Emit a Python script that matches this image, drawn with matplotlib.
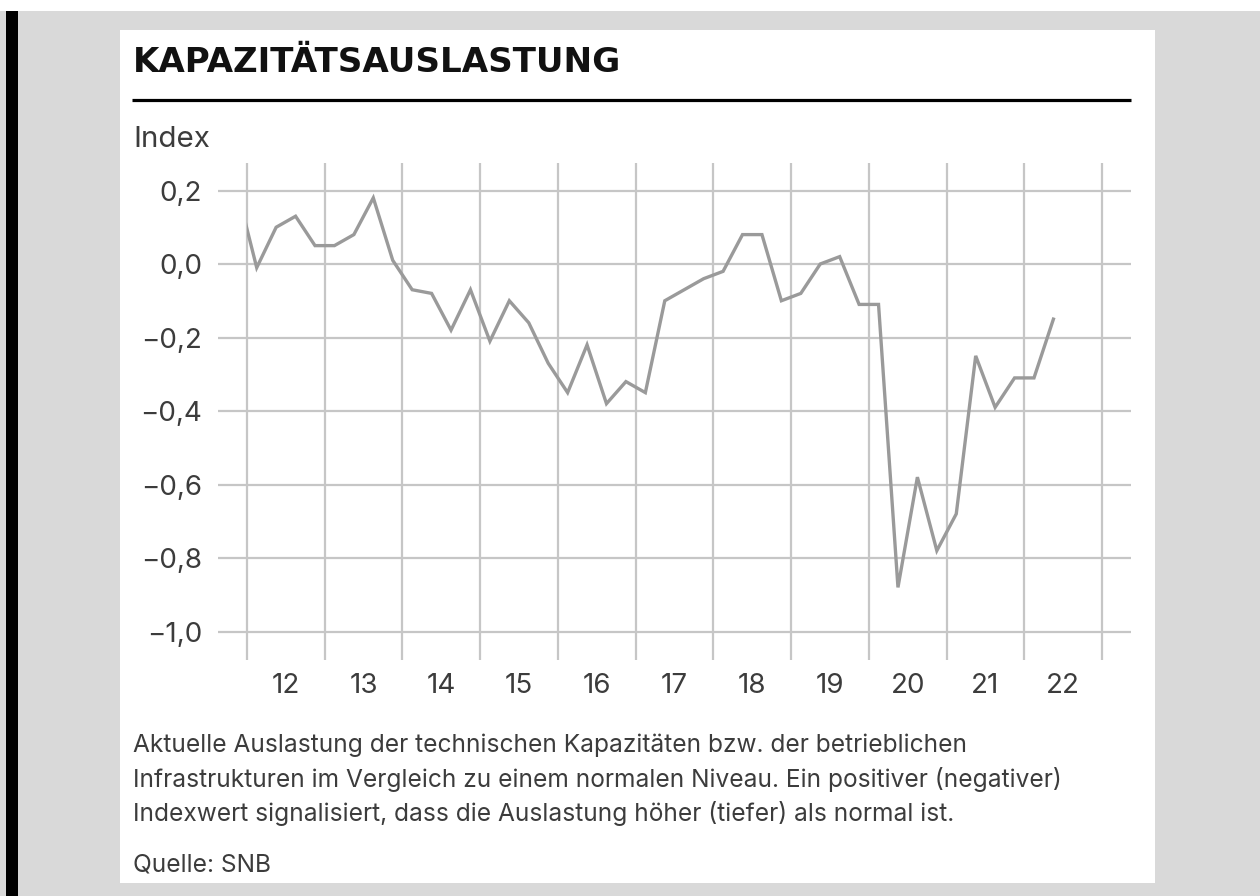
import matplotlib
matplotlib.use("Agg")
import matplotlib.pyplot as plt
from matplotlib.patches import Rectangle
from matplotlib.lines import Line2D
import numpy as np
import pandas as pd

# ---------------- data ----------------
quarters = pd.period_range("2011Q4", "2022Q2", freq="Q")
values = [0.20,
          -0.01, 0.10, 0.13, 0.05,
          0.05, 0.08, 0.18, 0.01,
          -0.07, -0.08, -0.18, -0.07,
          -0.21, -0.10, -0.16, -0.27,
          -0.35, -0.22, -0.38, -0.32,
          -0.35, -0.10, -0.07, -0.04,
          -0.02, 0.08, 0.08, -0.10,
          -0.08, 0.00, 0.02, -0.11,
          -0.11, -0.88, -0.58, -0.78,
          -0.68, -0.25, -0.39, -0.31,
          -0.31, -0.15]
year_ticks = list(range(2012, 2024))
year_labels = ["12", "13", "14", "15", "16", "17", "18", "19", "20", "21", "22"]
y_ticks = [0.2, 0.0, -0.2, -0.4, -0.6, -0.8, -1.0]

title = "KAPAZITÄTSAUSLASTUNG"
unit = "Index"
caption = ["Aktuelle Auslastung der technischen Kapazitäten bzw. der betrieblichen",
           "Infrastrukturen im Vergleich zu einem normalen Niveau. Ein positiver (negativer)",
           "Indexwert signalisiert, dass die Auslastung höher (tiefer) als normal ist."]
source = "Quelle: SNB"

# ---------------- figure ----------------
W, H = 1260, 896
body_font = ["Inter", "Liberation Sans", "DejaVu Sans"]
title_font = ["DejaVu Sans"]
plt.rcParams["font.family"] = body_font
fig = plt.figure(figsize=(W / 100, H / 100), dpi=100, facecolor="white")
renderer = fig.canvas.get_renderer()

def fx(px):
    return px / W

def fy(py):
    return 1 - py / H

def rect(x0, y0, x1, y1, color):
    fig.patches.append(Rectangle((fx(x0), fy(y1)), fx(x1) - fx(x0), fy(y0) - fy(y1),
                                 transform=fig.transFigure, facecolor=color,
                                 edgecolor="none", zorder=-10))

def fit_width(t, target_px):
    w = t.get_window_extent(renderer).width
    t.set_fontsize(t.get_fontsize() * target_px / w)
    return t.get_fontsize()

rect(0, 11, W, H, "#d9d9d9")
rect(6, 11, 18, H, "#000000")
rect(120, 30, 1155, 883, "#ffffff")

text_col = "#3c3c3c"
tt = fig.text(fx(133), fy(71.5), title, fontsize=22, fontweight="bold", color="#111111",
              family=title_font, ha="left", va="baseline")
fit_width(tt, 487)
fig.add_artist(Line2D([fx(132), fx(1131)], [fy(100), fy(100)], color="#000000",
                      lw=2.3, transform=fig.transFigure, solid_capstyle="butt"))
ut = fig.text(fx(133), fy(147), unit, fontsize=21, color=text_col, ha="left", va="baseline")
fit_width(ut, 77)

# tick label size fitted on a sample label width
probe = fig.text(0, 0, "\u22120,8", fontsize=21)
tick_fs = fit_width(probe, 61)
probe.remove()

# axes
ax_l, ax_r, ax_t, ax_b = 218, 1131, 163, 660
ax = fig.add_axes([fx(ax_l), fy(ax_b), fx(ax_r) - fx(ax_l), fy(ax_t) - fy(ax_b)])
ax.set_facecolor("none")
for s in ax.spines.values():
    s.set_visible(False)

ppy = (1102 - 247) / 11.0
x_left = 2012 + (ax_l - 247) / ppy
x_right = 2012 + (ax_r - 247) / ppy
ppu = (631.5 - 264) / 1.0
y_top = (264 - ax_t) / ppu
y_bot = -(ax_b - 264) / ppu
ax.set_xlim(x_left, x_right)
ax.set_ylim(y_bot, y_top)

grid_col = "#c6c6c6"
ax.set_xticks(year_ticks)
ax.set_xticklabels([""] * len(year_ticks))
ax.set_xticks([y + 0.5 for y in year_ticks[:-1]], minor=True)
ax.set_xticklabels(year_labels, minor=True)
ax.set_yticks(y_ticks)
ax.set_yticklabels([f"{v:.1f}".replace(".", ",").replace("-", "\u2212") for v in y_ticks])
ax.tick_params(axis="both", which="both", length=0, labelsize=tick_fs, labelcolor=text_col)
ax.tick_params(axis="y", pad=11.5)
ax.tick_params(axis="x", which="minor", pad=9)
ax.grid(True, which="major", color=grid_col, lw=1.6)
ax.set_axisbelow(True)

xs = np.array([q.year + (q.quarter - 0.5) / 4 for q in quarters])
line, = ax.plot(xs, values, color="#9a9a9a", lw=2.4, solid_joinstyle="miter", zorder=3)
clip = Rectangle((2012, -5), 20, 10, transform=ax.transData)
line.set_clip_path(clip)

# caption
cap_base = [752, 786.5, 821]
cts = []
for t, yb in zip(caption, cap_base):
    cts.append(fig.text(fx(133), fy(yb), t, fontsize=16.8, color=text_col,
                        ha="left", va="baseline"))
cap_fs = fit_width(cts[0], 830)
for c in cts[1:]:
    c.set_fontsize(cap_fs)
fig.text(fx(133), fy(871), source, fontsize=cap_fs, color=text_col, ha="left", va="baseline")

fig.savefig("out.png", dpi=100, facecolor=fig.get_facecolor())
